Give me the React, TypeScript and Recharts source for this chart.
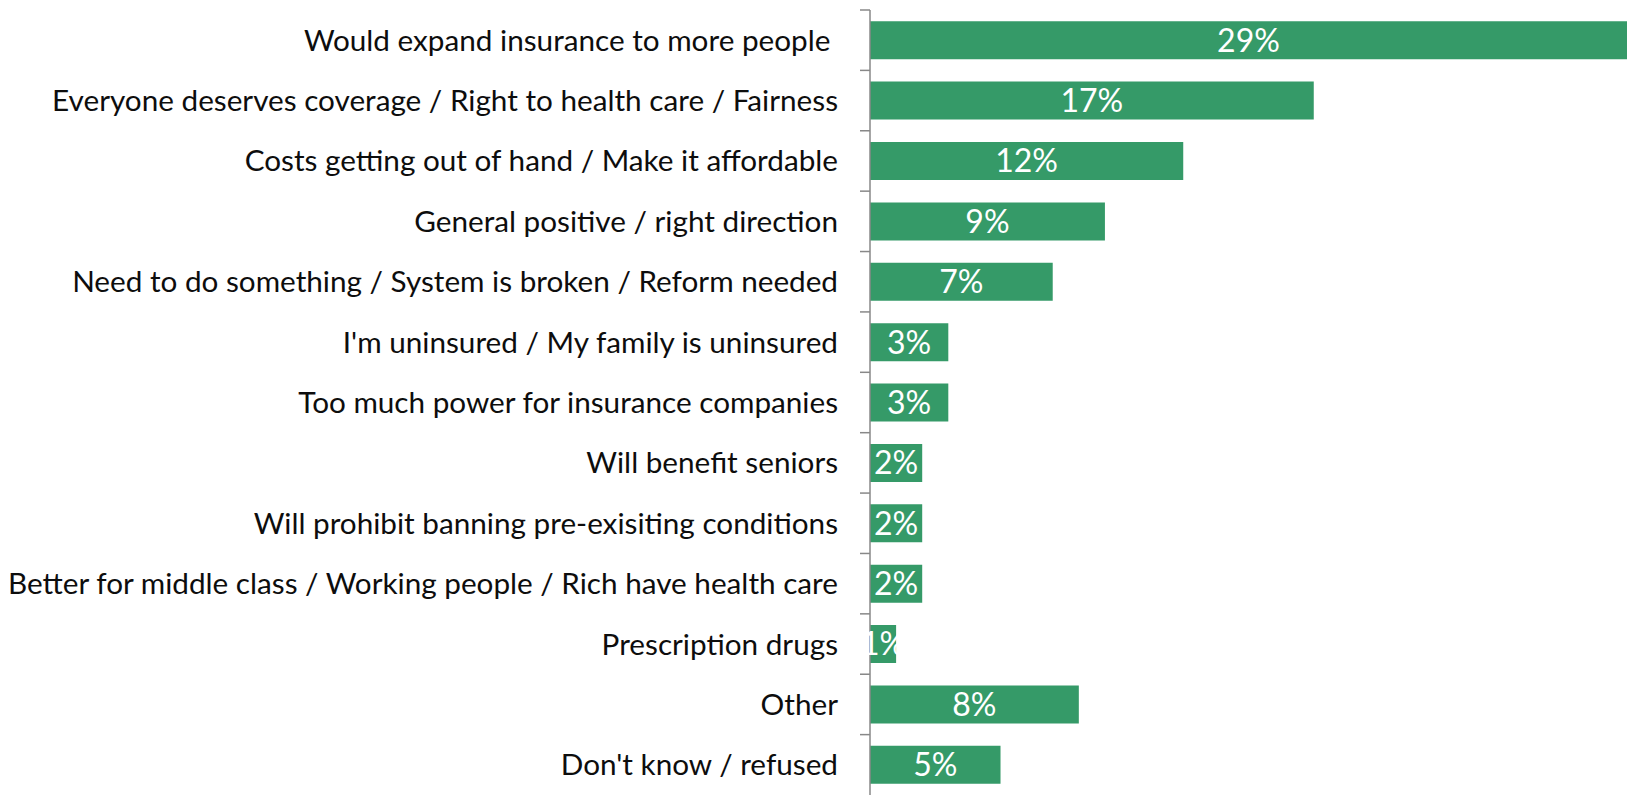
import React from 'react';
import { BarChart, Bar, XAxis, YAxis, LabelList } from 'recharts';

const categories = [
  'Would expand insurance to more people\u00A0',
  'Everyone deserves coverage / Right to health care / Fairness',
  'Costs getting out of hand / Make it affordable',
  'General positive / right direction',
  'Need to do something / System is broken / Reform needed',
  "I'm uninsured / My family is uninsured",
  'Too much power for insurance companies',
  'Will benefit seniors',
  'Will prohibit banning pre-exisiting conditions',
  'Better for middle class / Working people / Rich have health care',
  'Prescription drugs',
  'Other',
  "Don't know / refused",
];
const values = [29, 17, 12, 9, 7, 3, 3, 2, 2, 2, 1, 8, 5];

const data = categories.map((name, i) => ({ name, value: values[i] }));

const WIDTH = 1627;
const HEIGHT = 795;
const MARGIN = { top: 10, right: 0, bottom: 0, left: 0 };
const HALF_BAND = (HEIGHT - MARGIN.top - MARGIN.bottom) / categories.length / 2;
const FONT = 'Lato, "Open Sans", sans-serif';
const TICK_SIZE = 10;
const TICK_MARGIN = 22;

const CategoryTick = (props: any) => {
  const { x, y, payload } = props;
  const lx = x + TICK_MARGIN;
  return (
    <g>
      <line x1={lx} x2={lx + TICK_SIZE} y1={y - HALF_BAND} y2={y - HALF_BAND} stroke="#888888" strokeWidth={1.5} />
      <text x={x} y={y - 1} textAnchor="end" dominantBaseline="central" fill="#0d0d0d" fontSize={29.7} fontFamily={FONT}>
        {payload.value}
      </text>
    </g>
  );
};

export default function App() {
  return (
    <div style={{ position: 'absolute', left: 0, top: 0, background: '#fff' }}>
      <BarChart
        width={WIDTH}
        height={HEIGHT}
        data={data}
        layout="vertical"
        margin={MARGIN}
        barCategoryGap="18.6%"
      >
        <XAxis type="number" domain={[0, 29]} hide />
        <YAxis
          type="category"
          dataKey="name"
          width={870}
          tick={<CategoryTick />}
          tickLine={false}
          tickSize={TICK_SIZE}
          tickMargin={TICK_MARGIN}
          axisLine={{ stroke: '#888888', strokeWidth: 1.5 }}
          interval={0}
        />
        <Bar dataKey="value" fill="#359A68" isAnimationActive={false}>
          <LabelList
            dataKey="value"
            position="center"
            formatter={(v: any) => `${v}%`}
            fill="#ffffff"
            fontSize={32}
            fontFamily={FONT}
          />
        </Bar>
      </BarChart>
    </div>
  );
}
